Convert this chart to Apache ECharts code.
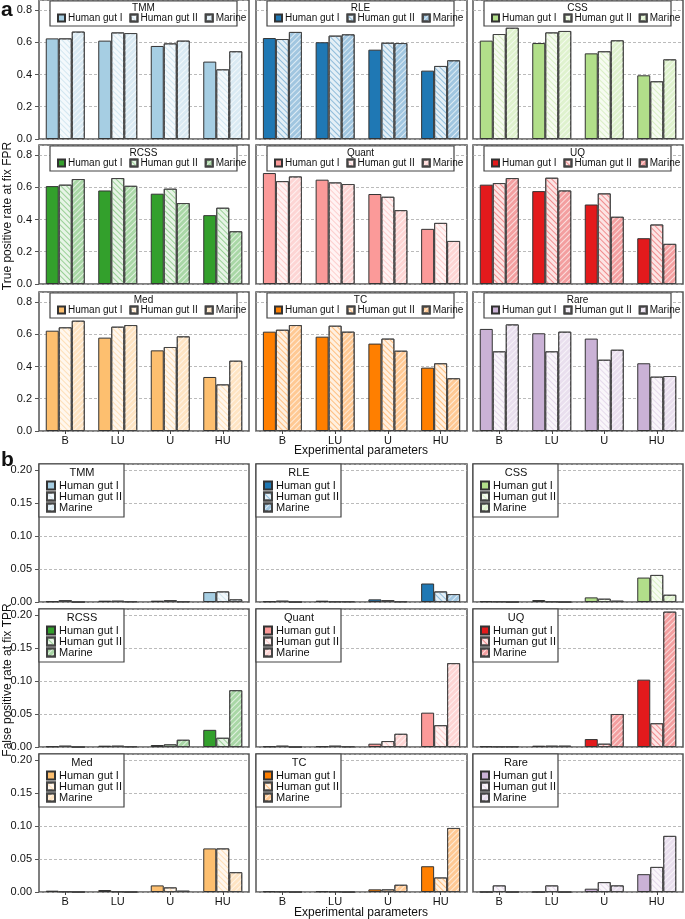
<!DOCTYPE html>
<html>
<head>
<meta charset="utf-8">
<script src="https://cdn.jsdelivr.net/npm/echarts@6/dist/echarts.min.js"></script>
<style>
html,body{margin:0;padding:0;background:#fff;}
#chart{width:685px;height:919px;}
</style>
</head>
<body>
<div id="chart"></div>
<script>
const categories = ['B', 'LU', 'U', 'HU'];
const groups = ['Human gut I', 'Human gut II', 'Marine'];
const methods = ['TMM', 'RLE', 'CSS', 'RCSS', 'Quant', 'UQ', 'Med', 'TC', 'Rare'];
const methodColors = ['#a6cee3', '#1f78b4', '#b2df8a', '#33a02c', '#fb9a99', '#e31a1c', '#fdbf6f', '#ff7f00', '#cab2d6'];
const tprTicks = [0, 0.2, 0.4, 0.6, 0.8];
const fprTicks = [0, 0.05, 0.10, 0.15, 0.20];

// True positive rate at fix FPR; rows: Human gut I, Human gut II, Marine; cols: B, LU, U, HU
const tpr_TMM   = [[0.624, 0.610, 0.577, 0.480], [0.624, 0.661, 0.593, 0.432], [0.666, 0.657, 0.610, 0.544]];
const tpr_RLE   = [[0.626, 0.600, 0.554, 0.424], [0.620, 0.641, 0.597, 0.453], [0.664, 0.649, 0.595, 0.488]];
const tpr_CSS   = [[0.610, 0.595, 0.531, 0.395], [0.651, 0.661, 0.544, 0.358], [0.690, 0.670, 0.612, 0.494]];
const tpr_RCSS  = [[0.607, 0.580, 0.560, 0.427], [0.616, 0.657, 0.591, 0.473], [0.651, 0.609, 0.502, 0.327]];
const tpr_Quant = [[0.688, 0.647, 0.558, 0.342], [0.638, 0.630, 0.541, 0.379], [0.667, 0.620, 0.458, 0.267]];
const tpr_UQ    = [[0.616, 0.576, 0.493, 0.284], [0.626, 0.659, 0.562, 0.369], [0.657, 0.580, 0.417, 0.249]];
const tpr_Med   = [[0.622, 0.579, 0.500, 0.335], [0.643, 0.647, 0.521, 0.289], [0.684, 0.657, 0.587, 0.436]];
const tpr_TC    = [[0.616, 0.585, 0.542, 0.393], [0.628, 0.653, 0.573, 0.420], [0.657, 0.616, 0.498, 0.327]];
const tpr_Rare  = [[0.633, 0.606, 0.573, 0.420], [0.494, 0.494, 0.442, 0.337], [0.661, 0.616, 0.504, 0.341]];

// False positive rate at fix TPR
const fpr_TMM   = [[0.001, 0.002, 0.002, 0.015], [0.003, 0.002, 0.003, 0.016], [0.000, 0.001, 0.001, 0.004]];
const fpr_RLE   = [[0.001, 0.002, 0.004, 0.028], [0.002, 0.001, 0.003, 0.016], [0.000, 0.001, 0.001, 0.012]];
const fpr_CSS   = [[0.001, 0.003, 0.007, 0.037], [0.001, 0.001, 0.005, 0.041], [0.000, 0.000, 0.002, 0.011]];
const fpr_RCSS  = [[0.001, 0.002, 0.003, 0.026], [0.002, 0.002, 0.004, 0.014], [0.000, 0.001, 0.011, 0.086]];
const fpr_Quant = [[0.001, 0.001, 0.005, 0.052], [0.002, 0.002, 0.009, 0.033], [0.000, 0.001, 0.020, 0.127]];
const fpr_UQ    = [[0.001, 0.002, 0.012, 0.102], [0.001, 0.002, 0.005, 0.036], [0.001, 0.002, 0.050, 0.205]];
const fpr_Med   = [[0.002, 0.003, 0.010, 0.066], [0.001, 0.001, 0.007, 0.066], [0.000, 0.000, 0.002, 0.030]];
const fpr_TC    = [[0.001, 0.001, 0.004, 0.039], [0.001, 0.001, 0.004, 0.022], [0.000, 0.000, 0.011, 0.097]];
const fpr_Rare  = [[0.000, 0.000, 0.005, 0.027], [0.010, 0.010, 0.015, 0.038], [0.000, 0.000, 0.010, 0.085]];

const tprData = [tpr_TMM, tpr_RLE, tpr_CSS, tpr_RCSS, tpr_Quant, tpr_UQ, tpr_Med, tpr_TC, tpr_Rare];
const fprData = [fpr_TMM, fpr_RLE, fpr_CSS, fpr_RCSS, fpr_Quant, fpr_UQ, fpr_Med, fpr_TC, fpr_Rare];

const FONT = 'Liberation Sans, Arial, Helvetica, sans-serif';
const colLeft = [39, 256, 473];
const colWidth = [210, 211, 210];
const sections = [
  { key: 'a', data: tprData, ticks: tprTicks, max: 0.862, rowTop: [0, 145, 292], h: 139, dec: 1 },
  { key: 'b', data: fprData, ticks: fprTicks, max: 0.209, rowTop: [464, 609, 754], h: 138, dec: 2 }
];

function mix(hex, w) {
  const r = parseInt(hex.slice(1, 3), 16), g = parseInt(hex.slice(3, 5), 16), b = parseInt(hex.slice(5, 7), 16);
  const f = v => Math.round(v + (255 - v) * w);
  return 'rgb(' + f(r) + ',' + f(g) + ',' + f(b) + ')';
}
function styleFor(c, k) {
  if (k === 0) return { color: c, borderColor: '#333', borderWidth: 1 };
  if (k === 1) return {
    color: mix(c, 0.88), borderColor: '#444', borderWidth: 1,
    decal: { symbol: 'rect', symbolSize: 1, rotation: Math.PI / 4, dashArrayX: [1, 0], dashArrayY: [1, 2.5], color: mix(c, 0.5) }
  };
  return {
    color: mix(c, 0.58), borderColor: '#444', borderWidth: 1,
    decal: { symbol: 'rect', symbolSize: 1, rotation: -Math.PI / 4, dashArrayX: [1, 0], dashArrayY: [1, 2.5], color: mix(c, 0.85) }
  };
}

const grids = [], xAxes = [], yAxes = [], series = [], legends = [], graphics = [];

sections.forEach((sec, si) => {
  methods.forEach((m, mi) => {
    const row = Math.floor(mi / 3), col = mi % 3;
    const gi = grids.length;
    const top = sec.rowTop[row];
    grids.push({
      left: colLeft[col], top: top, width: colWidth[col], height: sec.h,
      show: true, borderColor: '#555', borderWidth: 1.5, backgroundColor: 'transparent'
    });
    xAxes.push({
      type: 'category', gridIndex: gi, data: categories,
      axisLine: { show: false },
      axisTick: { show: row === 2, alignWithLabel: true, length: 3, lineStyle: { color: '#444' } },
      axisLabel: { show: row === 2, fontSize: 11, color: '#111', margin: 4, fontFamily: FONT }
    });
    yAxes.push({
      type: 'value', gridIndex: gi, min: 0, max: sec.max, interval: sec.ticks[1],
      axisLine: { show: false },
      axisTick: { show: col === 0, length: 4, lineStyle: { color: '#555' } },
      axisLabel: {
        show: col === 0, showMaxLabel: false, fontSize: 11, color: '#111', margin: 7, fontFamily: FONT,
        formatter: v => v.toFixed(sec.dec)
      },
      splitLine: { show: true, lineStyle: { color: '#aaa', width: 0.8, type: [3, 2] } }
    });
    const names = [];
    groups.forEach((gname, k) => {
      const name = sec.key + m + '|' + gname;
      names.push(name);
      series.push({
        type: 'bar', name: name, xAxisIndex: gi, yAxisIndex: gi,
        data: sec.data[mi][k], barWidth: 13, barGap: '0%',
        itemStyle: styleFor(methodColors[mi], k),
        emphasis: { disabled: true }, silent: true
      });
    });
    const cl = colLeft[col];
    if (sec.key === 'a') {
      graphics.push({
        type: 'rect', z: 20, shape: { x: cl + 11, y: top + 1, width: 187, height: 25 },
        style: { fill: '#fff', stroke: '#444', lineWidth: 1.2 }
      });
      graphics.push({
        type: 'text', z: 21, x: cl + 104.5, y: top + 8,
        style: { text: m, fontSize: 10, fill: '#111', fontFamily: FONT, align: 'center', verticalAlign: 'middle' }
      });
      legends.push({
        data: names, orient: 'horizontal', left: cl + 18, top: top + 13, z: 22,
        itemWidth: 7, itemHeight: 7, itemGap: 7, padding: 0, selectedMode: false,
        icon: 'rect', formatter: n => n.split('|')[1],
        textStyle: { fontSize: 10, color: '#111', fontFamily: FONT, padding: [0, 0, 0, -2] }
      });
    } else {
      graphics.push({
        type: 'rect', z: 20, shape: { x: cl, y: top, width: 85, height: 53 },
        style: { fill: '#fff', stroke: '#444', lineWidth: 1.2 }
      });
      graphics.push({
        type: 'text', z: 21, x: cl + 43, y: top + 9,
        style: { text: m, fontSize: 11, fill: '#111', fontFamily: FONT, align: 'center', verticalAlign: 'middle' }
      });
      legends.push({
        data: names, orient: 'vertical', left: cl + 7, top: top + 16, z: 22,
        itemWidth: 8, itemHeight: 8, itemGap: 0, padding: 0, selectedMode: false,
        icon: 'rect', formatter: n => n.split('|')[1],
        textStyle: { fontSize: 11, lineHeight: 11, color: '#111', fontFamily: FONT, padding: [0, 0, 0, -1] }
      });
    }
  });
});

graphics.push(
  { type: 'text', x: 1, y: 10, style: { text: 'a', fontSize: 21, fontWeight: 'bold', fill: '#111', fontFamily: FONT, verticalAlign: 'middle' } },
  { type: 'text', x: 1, y: 460, style: { text: 'b', fontSize: 21, fontWeight: 'bold', fill: '#111', fontFamily: FONT, verticalAlign: 'middle' } },
  { type: 'text', x: 8, y: 216, rotation: Math.PI / 2, style: { text: 'True positive rate at fix FPR', fontSize: 12, fill: '#111', fontFamily: FONT, align: 'center', verticalAlign: 'middle' } },
  { type: 'text', x: 8, y: 680, rotation: Math.PI / 2, style: { text: 'False positive rate at fix TPR', fontSize: 12, fill: '#111', fontFamily: FONT, align: 'center', verticalAlign: 'middle' } },
  { type: 'text', x: 361, y: 451, style: { text: 'Experimental parameters', fontSize: 12, fill: '#111', fontFamily: FONT, align: 'center', verticalAlign: 'middle' } },
  { type: 'text', x: 361, y: 913, style: { text: 'Experimental parameters', fontSize: 12, fill: '#111', fontFamily: FONT, align: 'center', verticalAlign: 'middle' } }
);

const chart = echarts.init(document.getElementById('chart'), null, { renderer: 'canvas' });
chart.setOption({
  animation: false,
  backgroundColor: '#fff',
  textStyle: { fontFamily: FONT },
  grid: grids, xAxis: xAxes, yAxis: yAxes, series: series, legend: legends,
  graphic: { elements: graphics }
});
</script>
</body>
</html>
